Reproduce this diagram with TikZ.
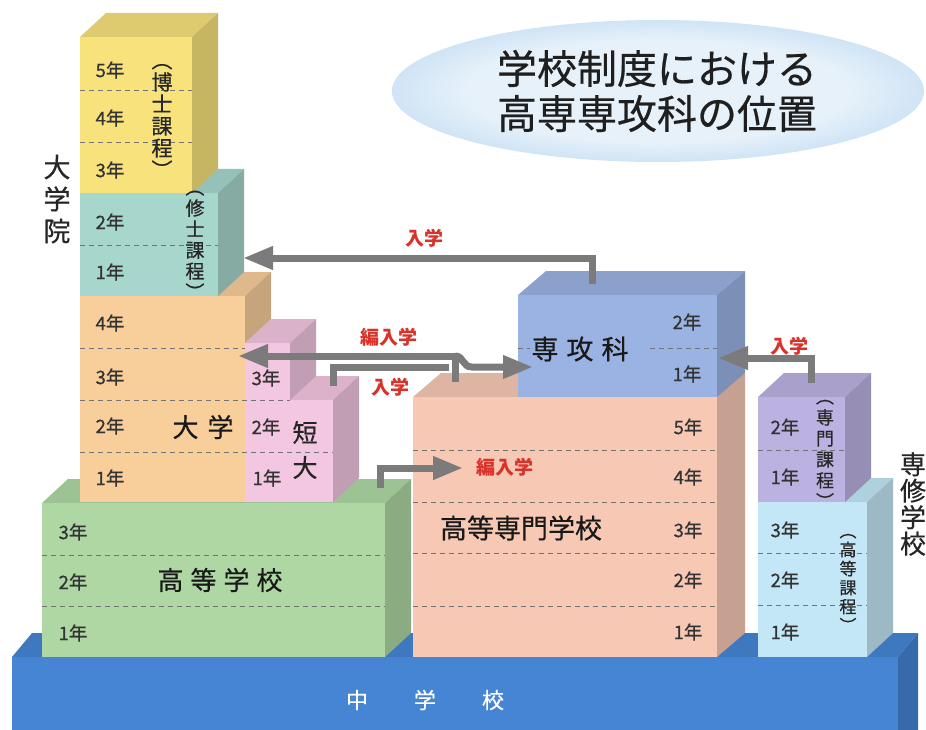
\documentclass[tikz,border=0pt]{standalone}
\usepackage{fontspec}
\setmainfont{Noto Sans CJK JP}
\newfontfamily\medf{Noto Sans CJK JP}[FakeBold=0.5]
\usetikzlibrary{arrows.meta}
\definecolor{cYel}{HTML}{F7E27C}
\definecolor{cTeal}{HTML}{A6D6CC}
\definecolor{cOra}{HTML}{F8CE9B}
\definecolor{cPink}{HTML}{F3C6E1}
\definecolor{cGrn}{HTML}{AED7A4}
\definecolor{cJhs}{HTML}{4585D4}
\definecolor{cSal}{HTML}{F7C9B5}
\definecolor{cSen}{HTML}{9BB3E3}
\definecolor{cPur}{HTML}{BCB2E2}
\definecolor{cLb}{HTML}{C3E7F6}
\definecolor{cArr}{HTML}{7B7B7B}
\definecolor{cRed}{HTML}{D8322B}
\definecolor{cTitIn}{HTML}{E6F1FA}
\definecolor{cTitOut}{HTML}{80B6E5}
\pgfdeclareradialshading{titleshade}{\pgfpoint{0bp}{0bp}}{color(0bp)=(cTitIn); color(18bp)=(cTitIn); color(50bp)=(cTitOut)}
% x1 y1 x2 y2 colour dx dy
\newcommand\blk[7]{%
  \fill[#5!90!black] (#1,#2) -- ++(#6,#7) -- ([shift={(#6,#7)}]#3,#2) -- (#3,#2) -- cycle;
  \fill[#5!80!black] (#3,#2) -- ++(#6,#7) -- ([shift={(#6,#7)}]#3,#4) -- (#3,#4) -- cycle;
  \fill[#5] (#1,#2) rectangle (#3,#4);
}
\tikzset{
  yr/.style={inner sep=0pt, font=\medf\fontsize{18.5}{18.5}\selectfont, text=black!80},
  big/.style={inner sep=0pt, font=\medf\fontsize{26}{26}\selectfont, text=black!90},
  redlab/.style={inner sep=0pt, font=\bfseries\fontsize{19}{19}\selectfont, text=cRed},
  vt/.style={align=center, inner sep=0pt, text=black!85},
  arr/.style={draw=cArr, line width=7pt, -{Triangle[length=30pt,width=22pt]}},
  seg/.style={draw=cArr, line width=7pt},
  dl/.style={draw=black!55, dash pattern=on 5pt off 4pt, line width=0.9pt},
}
\begin{document}
\begin{tikzpicture}[x=1pt,y=-1pt]
\useasboundingbox (0,0) rectangle (926,730);
\clip (0,0) rectangle (926,730);
\fill[white] (0,0) rectangle (926,730);

% title ellipse
\shade[shading=titleshade] (658,91) ellipse [x radius=266, y radius=71];
\node[inner sep=0pt, align=center, font=\medf\fontsize{40}{45}\selectfont, text=black!88] (title) at (657,91) {学校制度における\\高専専攻科の位置};

% blocks (back to front)
\blk{12}{657}{898}{760}{cJhs}{20}{-24}
\blk{42}{503}{385}{657}{cGrn}{26}{-24}
\blk{80}{296}{245}{502}{cOra}{26}{-24}
\blk{245}{400}{333}{502}{cPink}{26}{-24}
\blk{245}{343}{290}{400}{cPink}{26}{-24}
\blk{80}{193}{218}{296}{cTeal}{26}{-24}
\blk{80}{37}{192}{193}{cYel}{26}{-24}
\blk{413}{397}{717}{657}{cSal}{28}{-24}
\blk{518}{295}{717}{397}{cSen}{28}{-24}
\blk{758}{502}{867}{657}{cLb}{26}{-24}
\blk{758}{397}{845}{502}{cPur}{26}{-24}

% dashed year separators
\draw[dl] (80,90) -- (192,90);
\draw[dl] (80,142) -- (192,142);
\draw[dl] (80,245) -- (218,245);
\draw[dl] (80,348) -- (245,348);
\draw[dl] (80,400) -- (290,400);
\draw[dl] (80,452) -- (333,452);
\draw[dl] (42,555) -- (385,555);
\draw[dl] (42,606) -- (385,606);
\draw[dl] (413,450) -- (717,450);
\draw[dl] (413,502) -- (717,502);
\draw[dl] (413,553) -- (717,553);
\draw[dl] (413,606) -- (717,606);
\draw[dl] (518,348) -- (530,348);
\draw[dl] (650,348) -- (717,348);
\draw[dl] (758,450) -- (845,450);
\draw[dl] (758,553) -- (867,553);
\draw[dl] (758,605) -- (867,605);

% year labels
\node[yr] (y5d) at (110,70) {5年};
\node[yr] (y4d) at (110,118) {4年};
\node[yr] (y3d) at (110,170) {3年};
\node[yr] (y2m) at (110,222) {2年};
\node[yr] (y1m) at (110,272) {1年};
\node[yr] (y4u) at (110,323) {4年};
\node[yr] (y3u) at (110,377) {3年};
\node[yr] (y2u) at (110,426) {2年};
\node[yr] (y1u) at (110,478) {1年};
\node[yr] (y3t) at (266,378) {3年};
\node[yr] (y2t) at (266,427) {2年};
\node[yr] (y1t) at (267,478) {1年};
\node[yr] (y3h) at (73,532) {3年};
\node[yr] (y2h) at (73,582) {2年};
\node[yr] (y1h) at (73,633) {1年};
\node[yr] (y5k) at (688,427) {5年};
\node[yr] (y4k) at (688,477) {4年};
\node[yr] (y3k) at (688,530) {3年};
\node[yr] (y2k) at (688,580) {2年};
\node[yr] (y1k) at (688,632) {1年};
\node[yr] (y2s) at (687,322) {2年};
\node[yr] (y1s) at (687,374) {1年};
\node[yr] (y2p) at (785,427) {2年};
\node[yr] (y1p) at (785,477) {1年};
\node[yr] (y3c) at (785,530) {3年};
\node[yr] (y2c) at (785,580) {2年};
\node[yr] (y1c) at (785,632) {1年};

% vertical course names
\node[vt, font=\medf\fontsize{21}{22}\selectfont] (hakase) at (162,121) {︵\\博\\士\\課\\程\\︶};
\node[vt, font=\medf\fontsize{19}{21}\selectfont] (shushi) at (195,245) {︵\\修\\士\\課\\程\\︶};
\node[vt, font=\medf\fontsize{18}{21}\selectfont] (senmon) at (825,454) {︵\\専\\門\\課\\程\\︶};
\node[vt, font=\medf\fontsize{17}{19}\selectfont] (koto) at (848,583) {︵\\高\\等\\課\\程\\︶};

% school names
\node[vt, font=\medf\fontsize{27}{32}\selectfont] (daigakuin) at (57,199) {大\\学\\院};
\node[vt, font=\medf\fontsize{26}{26.5}\selectfont] (senshu) at (913,504) {専\\修\\学\\校};
\node[big] (daigaku) at (203,427) {大\hspace{9pt}学};
\node[vt, font=\medf\fontsize{25}{35}\selectfont] (tandai) at (305,450) {短\\大};
\node[big] (kokou) at (220,580) {高\hspace{7pt}等\hspace{7pt}学\hspace{7pt}校};
\node[big, font=\medf\fontsize{27}{27}\selectfont] (kosen) at (521,528) {高等専門学校};
\node[big, font=\medf\fontsize{27}{27}\selectfont] (senkoka) at (580,349) {専\hspace{8pt}攻\hspace{8pt}科};
\node[inner sep=0pt, font=\medf\fontsize{22}{22}\selectfont, text=white] (chugaku) at (425,700) {中\hspace{46pt}学\hspace{46pt}校};

% arrows
\coordinate (a0) at (592,284);
\coordinate (a1) at (592,258);
\coordinate (a2) at (243,258);
\draw[arr] (a0) -- (a1) -- (a2);

\coordinate (d0) at (333,386);
\coordinate (d1) at (333,367);
\coordinate (d2) at (449,367);
\draw[seg] (d0) -- (d1) -- (d2);

\coordinate (b0) at (455,382);
\coordinate (b1) at (455,356);
\coordinate (b2) at (238,356);
\draw[arr] (b0) -- (b1) -- (b2);
\coordinate (c1) at (472,367);
\coordinate (c2) at (533,367);
\draw[arr] (b1) .. controls (464,356) and (462,367) .. (c1) -- (c2);

\coordinate (e0) at (380,488);
\coordinate (e1) at (380,468);
\coordinate (e2) at (463,468);
\draw[arr] (e0) -- (e1) -- (e2);

\coordinate (f0) at (811,383);
\coordinate (f1) at (811,358);
\coordinate (f2) at (718,358);
\draw[arr] (f0) -- (f1) -- (f2);

% red labels
\node[redlab] (l1) at (424,238) {入学};
\node[redlab] (l2) at (389,337) {編入学};
\node[redlab] (l3) at (390,387) {入学};
\node[redlab] (l4) at (505,467) {編入学};
\node[redlab] (l5) at (789,346) {入学};
\end{tikzpicture}
\end{document}
